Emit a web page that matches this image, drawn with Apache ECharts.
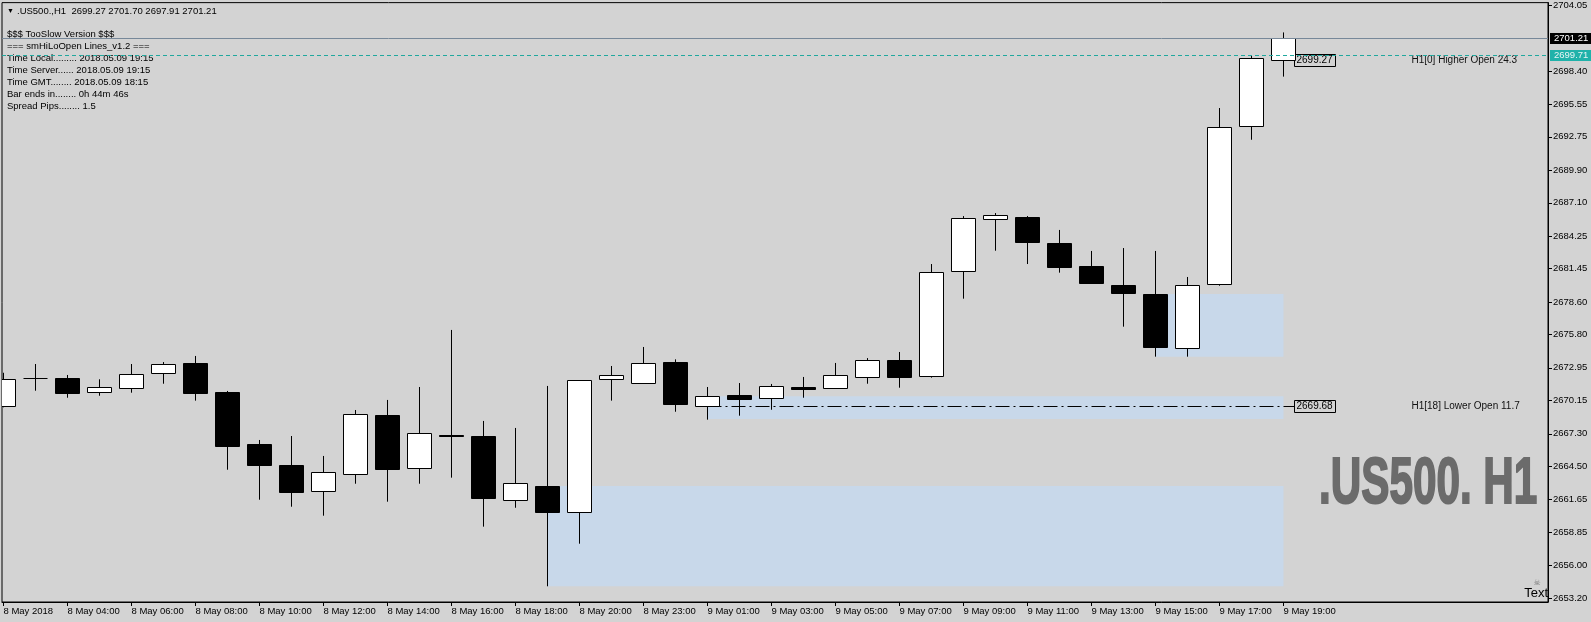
<!DOCTYPE html>
<html><head><meta charset="utf-8">
<script src="https://cdn.jsdelivr.net/npm/echarts@6/dist/echarts.min.js"></script>
<style>html,body{margin:0;padding:0;background:#d3d3d3;}#c{width:1591px;height:622px;}</style>
</head><body><div id="c"></div>
<script>
// ---- data ----
const times = ['8 May 02:00','8 May 03:00','8 May 04:00','8 May 05:00','8 May 06:00','8 May 07:00','8 May 08:00','8 May 09:00','8 May 10:00','8 May 11:00','8 May 12:00','8 May 13:00','8 May 14:00','8 May 15:00','8 May 16:00','8 May 17:00','8 May 18:00','8 May 19:00','8 May 20:00','8 May 21:00','8 May 23:00','9 May 00:00','9 May 01:00','9 May 02:00','9 May 03:00','9 May 04:00','9 May 05:00','9 May 06:00','9 May 07:00','9 May 08:00','9 May 09:00','9 May 10:00','9 May 11:00','9 May 12:00','9 May 13:00','9 May 14:00','9 May 15:00','9 May 16:00','9 May 17:00','9 May 18:00','9 May 19:00'];
const opens  = [2669.62,2672.06,2672.06,2670.86,2671.20,2672.48,2673.34,2670.88,2666.42,2664.62,2662.37,2663.83,2668.88,2664.34,2667.15,2667.11,2661.60,2662.82,2660.57,2671.93,2671.63,2673.43,2669.68,2670.60,2670.34,2671.28,2671.20,2672.14,2673.60,2672.23,2681.23,2685.68,2685.88,2683.57,2681.68,2680.03,2679.28,2674.63,2680.11,2693.65,2699.27];
const highs  = [2672.53,2673.28,2672.34,2671.97,2673.28,2673.45,2673.97,2670.97,2666.77,2667.11,2665.40,2669.34,2670.20,2671.31,2676.20,2668.40,2667.80,2671.40,2671.88,2673.11,2674.74,2673.68,2671.31,2671.65,2671.57,2672.17,2673.37,2673.79,2674.31,2681.85,2685.96,2686.22,2685.96,2684.77,2682.97,2683.22,2682.97,2680.74,2695.22,2699.68,2701.70];
const lows   = [2669.57,2670.99,2670.39,2670.56,2670.82,2671.59,2670.14,2664.22,2661.65,2661.05,2660.28,2663.02,2661.48,2663.02,2663.54,2659.34,2660.96,2654.23,2657.88,2670.14,2671.63,2669.19,2668.51,2668.85,2669.36,2670.39,2671.20,2671.59,2671.25,2672.11,2678.88,2682.99,2681.85,2681.11,2680.16,2676.48,2673.91,2673.91,2679.99,2692.50,2697.91];
const closes = [2671.97,2672.06,2670.74,2671.28,2672.40,2673.25,2670.74,2666.19,2664.56,2662.25,2664.00,2668.97,2664.22,2667.34,2667.07,2661.74,2663.00,2660.57,2671.88,2672.31,2673.34,2669.79,2670.51,2670.22,2671.37,2671.08,2672.31,2673.60,2672.11,2681.14,2685.77,2686.02,2683.68,2681.59,2680.16,2679.31,2674.68,2680.03,2693.57,2699.48,2701.21];

const xTickIdx    = [0,2,4,6,8,10,12,14,16,18,20,22,24,26,28,30,32,34,36,38,40];
const xTickLabels = ['8 May 2018','8 May 04:00','8 May 06:00','8 May 08:00','8 May 10:00','8 May 12:00','8 May 14:00','8 May 16:00','8 May 18:00','8 May 20:00','8 May 23:00','9 May 01:00','9 May 03:00','9 May 05:00','9 May 07:00','9 May 09:00','9 May 11:00','9 May 13:00','9 May 15:00','9 May 17:00','9 May 19:00'];
const yTickValues = [2653.20,2656.00,2658.85,2661.65,2664.50,2667.30,2670.15,2672.95,2675.80,2678.60,2681.45,2684.25,2687.10,2689.90,2692.75,2695.55,2698.40,2704.05];

const zoneFrom   = [17, 22, 36];
const zoneTo     = [40, 40, 40];
const zoneTop    = [2662.82, 2670.51, 2679.28];
const zoneBottom = [2654.23, 2668.56, 2673.91];

const levelFrom    = [40, 22];
const levelPrice   = [2699.27, 2669.68];
const levelTextIdx = [44, 44];
const levelTexts   = ['H1[0] Higher Open 24.3', 'H1[18] Lower Open 11.7'];

const bidPrice = 2701.21;
const askPrice = 2699.71;

const headerText = '.US500.,H1  2699.27 2701.70 2697.91 2701.21';
const infoLines = ['$$$ TooSlow Version $$$','=== smHiLoOpen Lines_v1.2 ===','Time Local......... 2018.05.09 19:15','Time Server...... 2018.05.09 19:15','Time GMT........ 2018.05.09 18:15','Bar ends in........ 0h 44m 46s','Spread Pips........ 1.5'];
const watermark = '.US500. H1';

// ---- chart ----
const FF = '"Liberation Sans", Arial, sans-serif';
const candleData = times.map((t, i) => [i, opens[i], highs[i], lows[i], closes[i]]);
const zoneData = zoneFrom.map((f, i) => [f, zoneTop[i], zoneTo[i], zoneBottom[i]]);
const levelData = levelFrom.map((f, i) => [f, levelPrice[i], levelTextIdx[i]]);
const lastIdx = times.length - 1;
const crisp = (y) => Math.round(y - 0.5) + 0.5;

function txt(x, y, text, font, fill, align, valign) {
  return {type:'text', x:x, y:y, style:{text:text, font:font, fill:fill, align:align||'left', textAlign:align||'left', verticalAlign:valign||'middle', textVerticalAlign:valign||'middle'}};
}

function renderZone(params, api) {
  const p0 = api.coord([api.value(0), api.value(1)]);
  const p1 = api.coord([api.value(2), api.value(3)]);
  return {type:'rect', shape:{x:p0[0], y:p0[1], width:p1[0]-p0[0], height:p1[1]-p0[1]}, style:{fill:'#c8d8ea'}};
}

function renderCandle(params, api) {
  const i = api.value(0), o = api.value(1), h = api.value(2), l = api.value(3), c = api.value(4);
  const pO = api.coord([i, o]), pC = api.coord([i, c]), pH = api.coord([i, h]), pL = api.coord([i, l]);
  const x = pO[0], half = 12;
  const top = Math.min(pO[1], pC[1]), bot = Math.max(pO[1], pC[1]);
  const children = [{type:'line', shape:{x1:x, y1:pH[1], x2:x, y2:pL[1]}, style:{stroke:'#000', lineWidth:1}}];
  if (bot - top < 0.6) {
    const yy = crisp(top);
    children.push({type:'line', shape:{x1:x-half, y1:yy, x2:x+half, y2:yy}, style:{stroke:'#000', lineWidth:1}});
  } else {
    const t = crisp(top), b = crisp(bot);
    children.push({type:'rect', shape:{x:x-half, y:t, width:2*half, height:Math.max(b-t, 1)}, style:{fill: c > o ? '#fff' : '#000', stroke:'#000', lineWidth:1}});
  }
  return {type:'group', children:children};
}

function renderLevel(params, api) {
  const k = params.dataIndex;
  const v = api.value(1);
  const p0 = api.coord([api.value(0), v]);
  const p1 = api.coord([lastIdx, v]);
  const pt = api.coord([api.value(2), v]);
  const y = crisp(p1[1]);
  const boxX = p1[0] + 11;
  return {type:'group', children:[
    {type:'line', shape:{x1:p0[0], y1:y, x2:p1[0], y2:y}, style:{stroke:'#000', lineWidth:1, lineDash:[14,4,2,4]}},
    {type:'line', shape:{x1:p1[0], y1:y, x2:boxX, y2:y}, style:{stroke:'#000', lineWidth:1}},
    {type:'rect', shape:{x:boxX, y:y-6, width:41, height:12}, style:{fill:'#d3d3d3', stroke:'#000', lineWidth:1}},
    txt(boxX+2, y, v.toFixed(2), '10px ' + FF, '#000'),
    txt(pt[0], y, levelTexts[k], '10px ' + FF, '#111')
  ]};
}

function renderPrice(params, api) {
  const k = params.dataIndex;
  const v = api.value(1);
  const y = crisp(api.coord([0, v])[1]);
  const cs = params.coordSys;
  const right = cs.x + cs.width;
  const isBid = k === 0;
  return {type:'group', children:[
    {type:'line', shape:{x1:cs.x, y1:y, x2:right, y2:y}, style:{stroke: isBid ? '#778899' : '#20a89e', lineWidth:1, lineDash: isBid ? null : [4,3]}},
    {type:'rect', shape:{x:right+2, y:y-5.5, width:41, height:11}, style:{fill: isBid ? '#000' : '#20b2aa'}},
    txt(right+6, y, v.toFixed(2), '9.5px ' + FF, isBid ? '#fff' : '#e8f4f4')
  ]};
}

const graphics = [
  txt(7, 11, '▼', '7px ' + FF, '#000'),
  txt(17, 11, headerText, '9.5px ' + FF, '#000')
];
infoLines.forEach((s, i) => graphics.push(txt(7, 34.7 + i * 12, s, '9.5px ' + FF, '#000')));
graphics.push({type:'text', x:1319, y:485, scaleX:0.66, style:{text:watermark, font:'bold 64px ' + FF, fill:'#6b6b6b', stroke:'#6b6b6b', lineWidth:2, align:'left', textAlign:'left', verticalAlign:'middle', textVerticalAlign:'middle'}});
graphics.push(txt(1548, 593, 'Text', '13px ' + FF, '#000', 'right'));
graphics.push(txt(1537, 583, '☠', '8px "DejaVu Sans"', '#777', 'center'));

const chart = echarts.init(document.getElementById('c'), null, {renderer:'canvas'});
chart.setOption({
  animation: false,
  backgroundColor: '#d3d3d3',
  grid: {left:2, top:2, width:1546, height:600, show:true, borderColor:'#000', borderWidth:1, backgroundColor:'transparent'},
  xAxis: {
    type:'value', min:-0.046875, max:48.265625,
    axisLine:{show:true, onZero:false, lineStyle:{color:'#000', width:1}},
    axisTick:{show:true, customValues:xTickIdx, length:4, lineStyle:{color:'#000'}},
    axisLabel:{customValues:xTickIdx, formatter:(v) => xTickLabels[xTickIdx.indexOf(Math.round(v))], align:'left', margin:4, fontSize:9.5, fontFamily:FF, color:'#000', hideOverlap:false},
    splitLine:{show:false}
  },
  yAxis: {
    type:'value', position:'right', min:2652.883, max:2704.253,
    axisLine:{show:true, onZero:false, lineStyle:{color:'#000', width:1}},
    axisTick:{show:true, customValues:yTickValues, length:4, lineStyle:{color:'#000'}},
    axisLabel:{customValues:yTickValues, formatter:(v) => v.toFixed(2), margin:5, fontSize:9.5, fontFamily:FF, color:'#000', hideOverlap:false},
    splitLine:{show:false}
  },
  graphic: {elements: graphics},
  series: [
    {type:'custom', name:'zones', data:zoneData, encode:{x:[0,2], y:[1,3]}, renderItem:renderZone, z:1, clip:true, silent:true},
    {type:'custom', name:'levels', data:levelData, encode:{x:0, y:1}, renderItem:renderLevel, z:2, clip:false, silent:true},
    {type:'custom', name:'candles', data:candleData, encode:{x:0, y:[1,2,3,4]}, renderItem:renderCandle, z:3, clip:true, silent:true},
    {type:'custom', name:'prices', data:[[0,bidPrice],[0,askPrice]], encode:{x:0, y:1}, renderItem:renderPrice, z:4, clip:false, silent:true}
  ]
});
</script></body></html>
